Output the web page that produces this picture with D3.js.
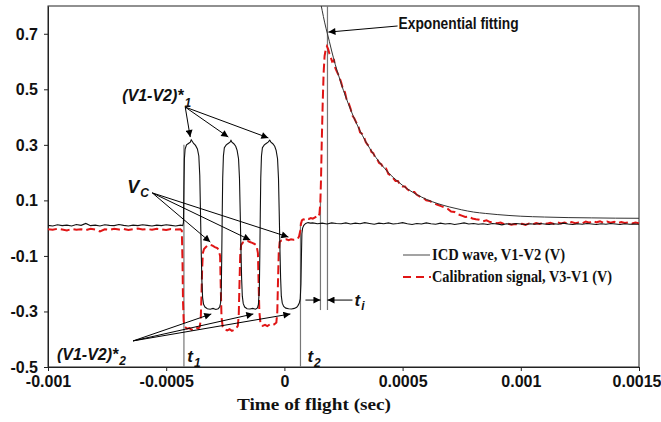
<!DOCTYPE html>
<html><head><meta charset="utf-8">
<script src="https://cdn.jsdelivr.net/npm/d3@7"></script>
<style>body{margin:0;background:#fff}</style>
</head><body>
<svg id="c" width="661" height="422"></svg>
<script>
// ---------- data (time in microseconds, value in volts) ----------
const xTicks = [-0.001, -0.0005, 0, 0.0005, 0.001, 0.0015];
const xTickLabels = ["-0.001", "-0.0005", "0", "0.0005", "0.001", "0.0015"];
const yTicks = [-0.5, -0.3, -0.1, 0.1, 0.3, 0.5, 0.7];
const yTickLabels = ["-0.5", "-0.3", "-0.1", "0.1", "0.3", "0.5", "0.7"];
const seriesNames = ["ICD wave, V1-V2 (V)", "Calibration signal, V3-V1 (V)"];
const xTitle = "Time of flight (sec)";

const icdWave = [
[-1000,0.010],[-980,0.008],[-960,0.012],[-940,0.009],[-920,0.011],[-900,0.008],[-880,0.013],[-860,0.010],[-840,0.017],[-820,0.009],
[-800,0.011],[-780,0.008],[-760,0.012],[-740,0.010],[-720,0.009],[-700,0.013],[-680,0.010],[-660,0.008],[-640,0.011],[-620,0.009],
[-600,0.012],[-580,0.010],[-560,0.008],[-540,0.011],[-520,0.009],[-500,0.012],[-480,0.010],[-460,0.008],[-440,0.011],[-430,0.009],
[-427,0.02],[-425,0.15],[-423,0.25],[-420,0.285],[-414,0.30],[-406,0.305],[-398,0.31],[-394,0.318],[-390,0.313],[-384,0.305],
[-376,0.298],[-368,0.285],[-362,0.26],[-358,0.19],[-355,0.06],[-352,-0.08],[-349,-0.19],[-346,-0.25],[-342,-0.274],[-336,-0.284],
[-326,-0.29],[-314,-0.292],[-302,-0.289],[-290,-0.293],[-280,-0.29],[-274,-0.284],[-270,-0.27],
[-267,-0.22],[-265,-0.10],[-263,0.05],[-261,0.18],[-258,0.26],[-254,0.29],[-246,0.30],[-238,0.305],[-230,0.31],[-226,0.316],
[-222,0.31],[-214,0.304],[-206,0.295],[-200,0.28],[-194,0.25],[-190,0.18],[-187,0.06],[-184,-0.07],[-181,-0.18],[-178,-0.245],
[-174,-0.272],[-168,-0.284],[-158,-0.29],[-146,-0.291],[-134,-0.289],[-122,-0.292],[-114,-0.287],[-110,-0.275],
[-106,-0.22],[-104,-0.10],[-102,0.05],[-100,0.18],[-97,0.26],[-93,0.29],[-85,0.30],[-77,0.305],[-69,0.31],[-62,0.317],
[-57,0.31],[-49,0.304],[-41,0.295],[-35,0.28],[-29,0.25],[-25,0.18],[-22,0.06],[-19,-0.07],[-16,-0.18],[-13,-0.245],
[-9,-0.27],[-3,-0.282],[6,-0.288],[18,-0.29],[30,-0.291],[42,-0.289],[52,-0.285],[58,-0.278],[63,-0.27],[67,-0.255],
[70,-0.20],[72,-0.10],[74,-0.02],[77,0.0],[82,0.01],[90,0.017],[100,0.020],[110,0.018],
[120,0.019],[140,0.016],[160,0.018],[180,0.015],[200,0.019],[220,0.017],[240,0.016],[260,0.019],[280,0.015],[300,0.018],
[320,0.016],[340,0.020],[360,0.017],[380,0.014],[400,0.018],[420,0.016],[440,0.019],[460,0.015],[480,0.017],[500,0.020],
[520,0.016],[540,0.013],[560,0.017],[580,0.015],[600,0.019],[620,0.016],[640,0.014],[660,0.018],[680,0.015],[700,0.017],
[720,0.013],[740,0.016],[760,0.019],[780,0.015],[800,0.017],[820,0.014],[840,0.016],[860,0.013],[880,0.017],[900,0.015],
[920,0.012],[940,0.016],[960,0.014],[980,0.017],[1000,0.015],[1020,0.013],[1040,0.016],[1060,0.014],[1080,0.017],[1100,0.015],
[1120,0.013],[1140,0.016],[1160,0.014],[1180,0.018],[1200,0.015],[1220,0.013],[1240,0.016],[1260,0.014],[1280,0.017],[1300,0.015],
[1320,0.013],[1340,0.016],[1360,0.014],[1380,0.017],[1400,0.015],[1420,0.013],[1440,0.016],[1460,0.014],[1480,0.015],[1500,0.014]
];

const calibration = [
[-1000,-0.004],[-980,-0.006],[-960,-0.002],[-940,-0.005],[-920,-0.008],[-900,-0.003],[-880,-0.006],[-860,-0.004],[-840,-0.007],[-820,-0.002],
[-800,-0.005],[-780,-0.012],[-760,-0.004],[-740,-0.006],[-720,-0.002],[-700,-0.005],[-680,-0.003],[-660,-0.007],[-640,-0.004],[-620,-0.001],
[-600,-0.005],[-580,-0.003],[-560,-0.006],[-540,-0.002],[-520,-0.004],[-500,-0.007],[-480,-0.003],[-460,-0.005],[-440,-0.004],
[-434,-0.008],[-431,-0.12],[-429,-0.26],[-426,-0.335],[-421,-0.355],[-412,-0.362],[-402,-0.36],[-392,-0.366],[-382,-0.361],[-372,-0.358],
[-364,-0.362],[-358,-0.355],[-354,-0.33],[-351,-0.25],[-348,-0.15],[-345,-0.09],[-340,-0.075],[-332,-0.068],[-324,-0.062],[-314,-0.06],
[-304,-0.063],[-294,-0.068],[-284,-0.072],[-278,-0.078],
[-272,-0.10],[-269,-0.22],[-266,-0.32],[-261,-0.355],[-252,-0.365],[-242,-0.368],[-232,-0.364],[-222,-0.37],[-212,-0.366],[-204,-0.36],[-197,-0.352],
[-193,-0.31],[-190,-0.20],[-187,-0.10],[-183,-0.06],[-176,-0.052],[-166,-0.048],[-156,-0.046],[-146,-0.05],[-136,-0.053],[-126,-0.057],[-118,-0.062],
[-112,-0.09],[-109,-0.20],[-106,-0.30],[-101,-0.345],[-92,-0.352],[-82,-0.348],[-72,-0.353],[-62,-0.347],[-52,-0.35],[-42,-0.346],[-34,-0.34],
[-30,-0.30],[-27,-0.19],[-24,-0.09],[-20,-0.05],[-12,-0.044],[-2,-0.042],[8,-0.04],[18,-0.043],[28,-0.04],[38,-0.042],[48,-0.041],[56,-0.039],
[62,-0.03],[67,-0.01],[70,0.015],[74,0.028],[80,0.032],[88,0.03],[96,0.035],[104,0.033],[112,0.036],[120,0.034],[128,0.038],[136,0.042],[142,0.039],
[148,0.05],[152,0.09],[155,0.18],[158,0.31],[162,0.45],[166,0.56],[170,0.62],[175,0.645],[180,0.655],[185,0.645],
[190,0.63],[196,0.615],[202,0.60],[210,0.605],[216,0.575],[224,0.56],[232,0.545],[240,0.525],[248,0.50],[256,0.49],
[264,0.46],[272,0.45],[280,0.43],[288,0.405],[296,0.395],[304,0.38],[312,0.37],[320,0.345],[328,0.34],[336,0.33],
[344,0.31],[352,0.30],[360,0.295],[368,0.275],[376,0.27],[384,0.255],[392,0.25],[400,0.235],[410,0.23],[420,0.215],
[430,0.215],[440,0.195],[450,0.19],[460,0.18],[470,0.17],[480,0.17],[490,0.155],[500,0.15],[510,0.15],[520,0.14],
[530,0.135],[540,0.13],[550,0.13],[560,0.12],[570,0.115],[580,0.11],[590,0.108],[600,0.10],[615,0.098],[630,0.09],
[645,0.085],[660,0.08],[675,0.075],[690,0.07],[705,0.06],[720,0.058],[735,0.05],[750,0.045],[765,0.04],[780,0.042],
[795,0.035],[810,0.032],[825,0.03],[840,0.025],[855,0.028],[870,0.022],[885,0.02],[900,0.018],[915,0.02],[930,0.014],
[945,0.016],[960,0.012],[975,0.015],[990,0.013],[1005,0.016],[1020,0.012],[1035,0.017],[1050,0.014],[1065,0.018],[1080,0.015],
[1095,0.02],[1110,0.016],[1125,0.019],[1140,0.015],[1155,0.021],[1170,0.017],[1185,0.02],[1200,0.016],[1215,0.022],[1230,0.018],
[1245,0.02],[1260,0.017],[1275,0.024],[1290,0.02],[1305,0.026],[1320,0.021],[1335,0.025],[1350,0.019],[1365,0.024],[1380,0.02],
[1395,0.023],[1410,0.018],[1425,0.022],[1440,0.019],[1455,0.021],[1470,0.017],[1485,0.02],[1500,0.018]
];

const expFit = [
[156,0.80],[160,0.783],[165,0.762],[170,0.742],[176,0.72],[182,0.70],[190,0.673],[200,0.638],[215,0.59],[230,0.548],
[250,0.495],[270,0.449],[290,0.406],[310,0.368],[330,0.334],[350,0.303],[375,0.269],[400,0.240],[425,0.214],[450,0.191],
[475,0.172],[500,0.154],[530,0.136],[560,0.121],[600,0.104],[650,0.088],[700,0.076],[750,0.066],[800,0.058],[850,0.053],
[900,0.049],[1000,0.043],[1100,0.040],[1200,0.038],[1300,0.037],[1400,0.036],[1500,0.0355]
];

// marker lines: [time µs, from V, to V]
const markerLines = [[-425,0.30,-0.5],[68,0.02,-0.5],[152.5,0.10,-0.295],[182.2,0.8,-0.295]];

// ---------- chart ----------
const us = 1e-6;
const svg = d3.select("#c");
const L = 48, R = 639, T = 6, B = 367;
const x = d3.scaleLinear().domain([-0.001, 0.0015]).range([L, R]);
const y = d3.scaleLinear().domain([-0.5, 0.8]).range([B, T]);
const X = t => x(t * us);

const defs = svg.append("defs");
defs.append("clipPath").attr("id","clip")
  .append("rect").attr("x",L).attr("y",T).attr("width",R-L).attr("height",B-T);
defs.append("marker").attr("id","ah").attr("viewBox","0 0 10 10")
  .attr("refX",10).attr("refY",5).attr("markerUnits","userSpaceOnUse")
  .attr("markerWidth",8).attr("markerHeight",7).attr("orient","auto")
  .append("path").attr("d","M0,0L10,5L0,10z").attr("fill","#000");

const sans = "'Liberation Sans', Arial, sans-serif";
const serif = "'Liberation Serif','Times New Roman',serif";

// axes
const gx = svg.append("g").attr("transform",`translate(0,${B})`)
  .call(d3.axisBottom(x).tickValues(xTicks).tickFormat((d,i)=>xTickLabels[i]).tickSize(4).tickPadding(5).tickSizeOuter(0));
const gy = svg.append("g").attr("transform",`translate(${L},0)`)
  .call(d3.axisLeft(y).tickValues(yTicks).tickFormat((d,i)=>yTickLabels[i]).tickSize(4).tickPadding(6).tickSizeOuter(0));
[gx, gy].forEach(g => {
  g.selectAll("text").attr("font-family", sans).attr("font-weight","bold").attr("font-size",16).attr("fill","#111");
  g.selectAll("line").attr("stroke","#222");
  g.select(".domain").attr("stroke","#222");
});
gy.selectAll("text").attr("dy","0.34em");
// keep the right-most label inside the canvas
gx.selectAll(".tick text").filter((d,i,n)=>i===n.length-1).attr("text-anchor","end").attr("x",22);

// frame
svg.append("rect").attr("x",L).attr("y",T).attr("width",R-L).attr("height",B-T)
  .attr("fill","none").attr("stroke","#222").attr("stroke-width",1);

const plot = svg.append("g").attr("clip-path","url(#clip)");

// marker vertical lines
plot.selectAll("line.mk").data(markerLines).enter().append("line")
  .attr("x1",d=>X(d[0])).attr("x2",d=>X(d[0]))
  .attr("y1",d=>y(d[1])).attr("y2",d=>y(d[2]))
  .attr("stroke","#777").attr("stroke-width",1.2);

const line = d3.line().x(d=>X(d[0])).y(d=>y(d[1]));
const smooth = d3.line().x(d=>X(d[0])).y(d=>y(d[1])).curve(d3.curveMonotoneX);

plot.append("path").datum(calibration).attr("d",line)
  .attr("fill","none").attr("stroke","#e01515").attr("stroke-width",2).attr("stroke-dasharray","9,4");

plot.append("path").datum(expFit).attr("d",smooth)
  .attr("fill","none").attr("stroke","#333").attr("stroke-width",1);

plot.append("path").datum(icdWave).attr("d",line)
  .attr("fill","none").attr("stroke","#111").attr("stroke-width",1.1);

// x title
svg.append("text").attr("x",314).attr("y",410).attr("text-anchor","middle")
  .attr("font-family",serif).attr("font-weight","bold")
  .attr("font-size",17).attr("textLength",154).attr("lengthAdjust","spacingAndGlyphs")
  .attr("fill","#111").text(xTitle);

// legend
const lg = svg.append("g");
lg.append("line").attr("x1",403).attr("x2",430).attr("y1",255).attr("y2",255).attr("stroke","#666").attr("stroke-width",1.2);
lg.append("line").attr("x1",403).attr("x2",431).attr("y1",277).attr("y2",277).attr("stroke","#e01515").attr("stroke-width",2).attr("stroke-dasharray","8,5");
lg.append("text").attr("x",432).attr("y",260).attr("font-family",serif).attr("font-weight","bold").attr("font-size",16)
  .attr("textLength",133).attr("lengthAdjust","spacingAndGlyphs").attr("fill","#111").text(seriesNames[0]);
lg.append("text").attr("x",432).attr("y",282).attr("font-family",serif).attr("font-weight","bold").attr("font-size",16)
  .attr("textLength",180).attr("lengthAdjust","spacingAndGlyphs").attr("fill","#111").text(seriesNames[1]);

// annotations (positions in data units: µs, V)
const arrows = [
  [[-419.5,0.436],[-398.3,0.328]],[[-419.5,0.436],[-237.3,0.328]],[[-419.5,0.436],[-67.8,0.325]],
  [[-559,0.127],[-313.6,-0.05]],[[-559,0.127],[-144.1,-0.043]],[[-559,0.127],[17,-0.032]],
  [[-640,-0.406],[-309.3,-0.309]],[[-640,-0.406],[-131.4,-0.309]],[[-640,-0.406],[25.4,-0.309]],
  [[478.8,0.728],[186.4,0.706]],
  [[89,-0.259],[152.5,-0.259]],[[288,-0.259],[182.2,-0.259]]
];
const ag = svg.append("g");
ag.selectAll("line").data(arrows).enter().append("line")
  .attr("x1",d=>X(d[0][0])).attr("y1",d=>y(d[0][1]))
  .attr("x2",d=>X(d[1][0])).attr("y2",d=>y(d[1][1]))
  .attr("stroke","#000").attr("stroke-width",1).attr("marker-end","url(#ah)");

function subLabel(t, v, main, sub, size, subSize, subDy) {
  const tx = svg.append("text").attr("x",X(t)).attr("y",y(v))
    .attr("font-family",sans).attr("font-weight","bold").attr("font-style","italic")
    .attr("font-size",size).attr("fill","#111");
  tx.append("tspan").text(main);
  if (sub) tx.append("tspan").attr("dy",subDy).attr("dx",1).attr("font-size",subSize).text(sub);
  return tx;
}
subLabel(-686, 0.459, "(V1-V2)*", "1", 16, 12, 6);
subLabel(-665, 0.128, "V", "C", 18, 12, 4);
subLabel(-962, -0.473, "(V1-V2)*", "2", 16, 12, 5);
subLabel(-411, -0.482, "t", "1", 17, 12, 5);
subLabel(97.5, -0.482, "t", "2", 17, 12, 5);
subLabel(296.6, -0.280, "t", "i", 17, 12, 4);
svg.append("text").attr("x",X(483)).attr("y",y(0.716)).attr("font-family",sans).attr("font-weight","bold")
  .attr("font-size",16).attr("textLength",120).attr("lengthAdjust","spacingAndGlyphs").attr("fill","#111")
  .text("Exponential fitting");
</script>
</body></html>
